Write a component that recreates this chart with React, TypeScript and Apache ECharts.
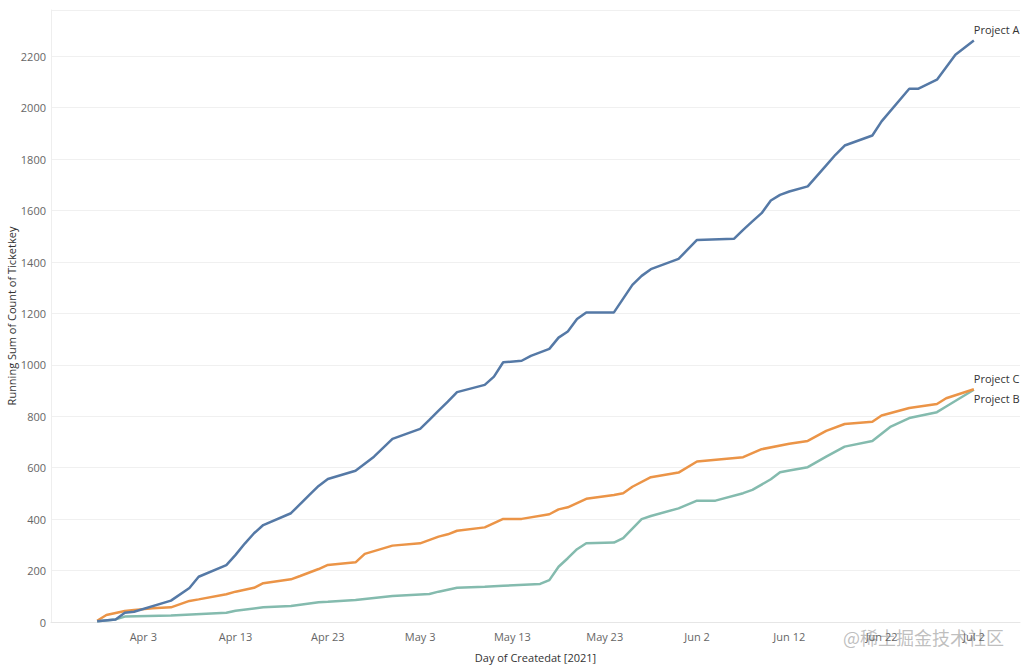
import React, { useEffect, useRef } from "react";
import * as echarts from "echarts";

// Day 0 of the value axis is 2021-03-24 (so that Apr 3, Apr 13 ... are multiples of 10)
const BASE = Date.UTC(2021, 2, 24);
const MONTHS = ["Jan", "Feb", "Mar", "Apr", "May", "Jun", "Jul", "Aug", "Sep", "Oct", "Nov", "Dec"];

const datesA = [
  "2021-03-29", "2021-03-31", "2021-04-01", "2021-04-02", "2021-04-06", "2021-04-08", "2021-04-09",
  "2021-04-12", "2021-04-13", "2021-04-14", "2021-04-15", "2021-04-16", "2021-04-19", "2021-04-21",
  "2021-04-22", "2021-04-23", "2021-04-26", "2021-04-28", "2021-04-30", "2021-05-03", "2021-05-04",
  "2021-05-05", "2021-05-06", "2021-05-07", "2021-05-10", "2021-05-11", "2021-05-12", "2021-05-14",
  "2021-05-15", "2021-05-17", "2021-05-18", "2021-05-19", "2021-05-20", "2021-05-21", "2021-05-24",
  "2021-05-26", "2021-05-27", "2021-05-28", "2021-05-31", "2021-06-02", "2021-06-06", "2021-06-07",
  "2021-06-08", "2021-06-09", "2021-06-10", "2021-06-11", "2021-06-12", "2021-06-14", "2021-06-16",
  "2021-06-17", "2021-06-18", "2021-06-21", "2021-06-22", "2021-06-25", "2021-06-26", "2021-06-28",
  "2021-06-30", "2021-07-02",
];
const valuesA = [
  3, 10, 36, 40, 83, 132, 176,
  221, 261, 305, 345, 377, 423, 494,
  529, 556, 588, 643, 712, 751, 786,
  822, 857, 894, 922, 954, 1010, 1016,
  1035, 1062, 1106, 1130, 1178, 1204, 1204,
  1311, 1346, 1372, 1412, 1486, 1490, 1525,
  1558, 1590, 1639, 1661, 1674, 1694, 1776,
  1817, 1853, 1892, 1947, 2074, 2074, 2109,
  2206, 2261,
];

const datesC = [
  "2021-03-29", "2021-03-30", "2021-04-01", "2021-04-02", "2021-04-04", "2021-04-06", "2021-04-08",
  "2021-04-09", "2021-04-12", "2021-04-13", "2021-04-15", "2021-04-16", "2021-04-19", "2021-04-20",
  "2021-04-22", "2021-04-23", "2021-04-26", "2021-04-27", "2021-04-30", "2021-05-03", "2021-05-05",
  "2021-05-06", "2021-05-07", "2021-05-10", "2021-05-12", "2021-05-14", "2021-05-17", "2021-05-18",
  "2021-05-19", "2021-05-21", "2021-05-24", "2021-05-25", "2021-05-26", "2021-05-28", "2021-05-31",
  "2021-06-02", "2021-06-07", "2021-06-09", "2021-06-12", "2021-06-14", "2021-06-16", "2021-06-18",
  "2021-06-21", "2021-06-22", "2021-06-25", "2021-06-28", "2021-06-29", "2021-07-02",
];
const valuesC = [
  5, 27, 43, 47, 53, 57, 82,
  88, 108, 118, 133, 151, 166, 179,
  206, 222, 232, 265, 297, 306, 332,
  341, 355, 368, 401, 401, 419, 438,
  446, 479, 494, 501, 526, 563, 581,
  624, 641, 672, 693, 704, 743, 770,
  779, 803, 832, 848, 870, 905,
];

const datesB = [
  "2021-03-29", "2021-03-31", "2021-04-01", "2021-04-06", "2021-04-12", "2021-04-13", "2021-04-16",
  "2021-04-19", "2021-04-22", "2021-04-23", "2021-04-26", "2021-04-30", "2021-05-04", "2021-05-05",
  "2021-05-07", "2021-05-10", "2021-05-12", "2021-05-16", "2021-05-17", "2021-05-18", "2021-05-19",
  "2021-05-20", "2021-05-21", "2021-05-24", "2021-05-25", "2021-05-27", "2021-05-28", "2021-05-31",
  "2021-06-02", "2021-06-04", "2021-06-07", "2021-06-08", "2021-06-10", "2021-06-11", "2021-06-12",
  "2021-06-14", "2021-06-16", "2021-06-18", "2021-06-21", "2021-06-23", "2021-06-25", "2021-06-28",
  "2021-06-29", "2021-07-02",
];
const valuesB = [
  3, 10, 21, 25, 36, 44, 57,
  62, 77, 79, 86, 101, 109, 118,
  133, 137, 141, 148, 163, 215, 248,
  283, 306, 309, 326, 400, 412, 442,
  472, 472, 501, 514, 555, 582, 589,
  602, 643, 682, 704, 760, 793, 816,
  838, 903,
];

const seriesNames = ["Project A", "Project C", "Project B"];
const seriesColors = ["#5579a6", "#eb9447", "#84bbae"];
const xTickInterval = 10;
const yTicks = [0, 200, 400, 600, 800, 1000, 1200, 1400, 1600, 1800, 2000, 2200];
const xTitle = "Day of Createdat [2021]";
const yTitle = "Running Sum of Count of Ticketkey";

const FONT = "'Open Sans', 'Noto Sans', sans-serif";

function dayIndex(s: string): number {
  const [y, m, d] = s.split("-").map(Number);
  return Math.round((Date.UTC(y, m - 1, d) - BASE) / 86400000);
}

function dayLabel(v: number): string {
  if (v <= 0 || v % xTickInterval !== 0) return "";
  const dt = new Date(BASE + v * 86400000);
  return MONTHS[dt.getUTCMonth()] + " " + dt.getUTCDate();
}

function pairs(dates: string[], values: number[]) {
  return dates.map((d, i) => [dayIndex(d), values[i]]);
}

export default function App() {
  const ref = useRef<HTMLDivElement>(null);

  useEffect(() => {
    if (!ref.current) return;
    const chart = echarts.init(ref.current, null, { renderer: "svg" });
    const all = [pairs(datesA, valuesA), pairs(datesC, valuesC), pairs(datesB, valuesB)];
    const labelOffsets = [[0, -11], [0, -11], [0, 9]];
    chart.setOption({
      animation: false,
      backgroundColor: "#ffffff",
      grid: { left: 51, right: 4, top: 10, bottom: 48, containLabel: false, outerBoundsMode: "none" },
      xAxis: {
        type: "value",
        min: 0,
        max: 105,
        interval: xTickInterval,
        name: xTitle,
        nameLocation: "middle",
        nameGap: 30,
        nameTextStyle: { color: "#333333", fontSize: 11, fontFamily: FONT },
        axisLine: { show: true, lineStyle: { color: "#e6e6e6" } },
        axisTick: { show: false },
        splitLine: { show: false },
        axisLabel: {
          color: "#666666",
          fontSize: 11,
          fontFamily: FONT,
          margin: 9,
          formatter: (v: number) => dayLabel(v),
        },
      },
      yAxis: {
        type: "value",
        min: 0,
        max: 2380,
        interval: 200,
        axisLine: { show: true, lineStyle: { color: "#eeeeee" } },
        axisTick: { show: false },
        splitLine: { show: true, lineStyle: { color: "#f0f0f0", width: 1 } },
        axisLabel: {
          color: "#666666",
          fontSize: 11,
          fontFamily: FONT,
          margin: 5,
          formatter: (v: number) => (yTicks.indexOf(v) >= 0 ? String(v) : ""),
        },
      },
      series: all.map((data, i) => ({
        type: "line",
        name: seriesNames[i],
        data,
        showSymbol: false,
        symbol: "none",
        lineStyle: { color: seriesColors[i], width: 2.5 },
        itemStyle: { color: seriesColors[i] },
        endLabel: {
          show: true,
          formatter: seriesNames[i],
          color: "#333333",
          fontSize: 11,
          fontFamily: FONT,
          distance: 0,
          offset: labelOffsets[i],
        },
        z: 3 - i,
      })),
      graphic: [
        {
          type: "text",
          x: 11,
          y: 316,
          rotation: Math.PI / 2,
          silent: true,
          style: {
            text: yTitle,
            align: "center",
            verticalAlign: "middle",
            fontSize: 11,
            fontFamily: FONT,
            fill: "#333333",
          },
        },
        {
          type: "text",
          left: 843,
          top: 628,
          silent: true,
          style: {
            text: "@稀土掘金技术社区",
            fontSize: 18,
            fontFamily: "'Noto Sans CJK SC', sans-serif",
            fill: "rgba(170,170,170,0.75)",
          },
        },
      ],
    });
    return () => chart.dispose();
  }, []);

  return (
    <div
      ref={ref}
      style={{ position: "fixed", left: 0, top: 0, width: 1024, height: 670, background: "#fff" }}
    />
  );
}
